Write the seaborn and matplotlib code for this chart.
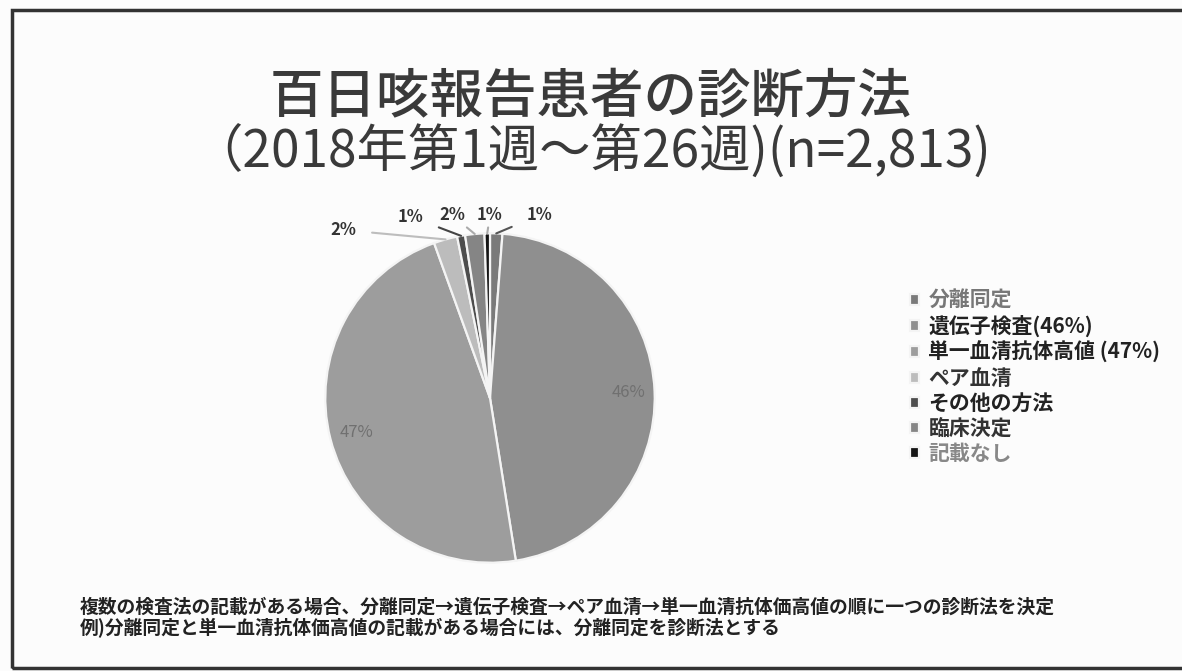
import numpy as np
import pandas as pd
import seaborn as sns
import matplotlib.pyplot as plt
from matplotlib.patches import Rectangle

# data: counts per diagnostic method (n=2,813)
methods = ['分離同定', '遺伝子検査', '単一血清抗体高値', 'ペア血清', 'その他の方法', '臨床決定', '記載なし']
legend_labels = ['分離同定', '遺伝子検査(46%)', '単一血清抗体高値 (47%)', 'ペア血清', 'その他の方法', '臨床決定', '記載なし']
counts = [34, 1302, 1322, 65, 22, 53, 15]

title_line1 = '百日咳報告患者の診断方法'
title_line2 = '（2018年第1週～第26週)(n=2,813)'
note_line1 = '複数の検査法の記載がある場合、分離同定→遺伝子検査→ペア血清→単一血清抗体価高値の順に一つの診断法を決定'
note_line2 = '例)分離同定と単一血清抗体価高値の記載がある場合には、分離同定を診断法とする'

df = pd.DataFrame({'method': methods, 'count': counts})
df['pct'] = df['count'] / df['count'].sum() * 100

sns.set_theme(style='white')
plt.rcParams['font.family'] = ['Noto Sans CJK JP', 'DejaVu Sans']

grays = ['#7a7a7a', '#8f8f8f', '#9d9d9d', '#bcbcbc', '#4d4d4d', '#858585', '#141414']

fig = plt.figure(figsize=(11.82, 6.71), dpi=100)
fig.patch.set_facecolor('#fcfcfc')

# frame around the slide
fig.add_artist(Rectangle((12 / 1182, 3 / 671), 1.02, 658 / 671, transform=fig.transFigure,
                         fill=False, edgecolor='#333333', linewidth=2.5))

# titles
fig.text(0.5, 1 - 98 / 671, title_line1, ha='center', va='center', fontsize=38.5,
         color='#3a3a3a', fontweight='medium')
fig.text(0.5, 1 - 153 / 671, title_line2, ha='center', va='center', fontsize=37,
         color='#3a3a3a')

# pie
ax = fig.add_axes([(490 - 168) / 1182, (671 - 566) / 671, 336 / 1182, 336 / 671])
wedges, _ = ax.pie(df['count'], colors=grays, startangle=90, counterclock=False,
                   wedgeprops=dict(edgecolor='#f4f4f4', linewidth=1.6))
ax.set_aspect('equal')
ax.set_xlim(-1.02, 1.02)
ax.set_ylim(-1.02, 1.02)
ax.axis('off')

# big labels inside
for i in [1, 2]:
    w = wedges[i]
    ang = np.deg2rad((w.theta1 + w.theta2) / 2)
    ax.text(0.84 * np.cos(ang), 0.84 * np.sin(ang), f"{df['pct'][i]:.0f}%",
            ha='center', va='center', fontsize=12, color='#707070', style='italic')

# small labels outside with leader lines
small_pos = {3: (-0.89, 1.02), 4: (-0.48, 1.10), 5: (-0.23, 1.11), 6: (0.0, 1.11), 0: (0.30, 1.11)}
line_cols = {3: '#bdbdbd', 4: '#444444', 5: '#aaaaaa', 6: '#aaaaaa', 0: '#555555'}
for i, (tx, ty) in small_pos.items():
    w = wedges[i]
    ang = np.deg2rad((w.theta1 + w.theta2) / 2)
    ax.annotate(f"{df['pct'][i]:.0f}%", xy=(np.cos(ang), np.sin(ang)), xytext=(tx, ty),
                ha='center', va='center', fontsize=12, fontweight='bold', color='#333333',
                annotation_clip=False,
                arrowprops=dict(arrowstyle='-', color=line_cols[i], lw=1.5,
                                shrinkA=9, shrinkB=0))

# legend
leg = fig.legend(wedges, legend_labels, loc='upper left',
                 bbox_to_anchor=(891 / 1182, 1 - 271 / 671), frameon=False,
                 handlelength=0.45, handleheight=0.45, handletextpad=0.45,
                 labelspacing=0.2, prop={'weight': 'bold', 'size': 15})
text_cols = ['#777777', '#222222', '#222222', '#333333', '#222222', '#333333', '#888888']
for t, c in zip(leg.get_texts(), text_cols):
    t.set_color(c)

# note at bottom
fig.text(80 / 1182, 1 - 607 / 671, note_line1, ha='left', va='center', fontsize=13.5,
         fontweight='bold', color='#222222')
fig.text(80 / 1182, 1 - 628 / 671, note_line2, ha='left', va='center', fontsize=13.5,
         fontweight='bold', color='#222222')

plt.savefig('out.png', dpi=100, facecolor=fig.get_facecolor())
